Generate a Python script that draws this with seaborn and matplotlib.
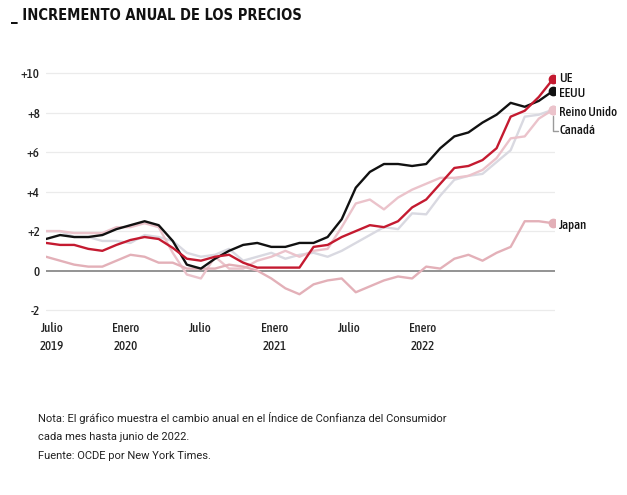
import matplotlib
matplotlib.use("Agg")
import matplotlib.pyplot as plt
from matplotlib import font_manager
from matplotlib.font_manager import FontProperties
import seaborn as sns
import pandas as pd

# Datos: variación anual del IPC, junio 2019 - junio 2022 (mensual)
meses = list(range(37))
ue = [1.4, 1.3, 1.3, 1.1, 1.0, 1.3, 1.55, 1.7, 1.6, 1.15, 0.6, 0.5, 0.7, 0.8, 0.4, 0.15, 0.15, 0.15, 0.15,
      1.2, 1.3, 1.7, 2.0, 2.3, 2.2, 2.5, 3.2, 3.6, 4.4, 5.2, 5.3, 5.6, 6.2, 7.8, 8.1, 8.8, 9.7]
eeuu = [1.6, 1.8, 1.7, 1.7, 1.8, 2.1, 2.3, 2.5, 2.3, 1.5, 0.3, 0.1, 0.6, 1.0, 1.3, 1.4, 1.2, 1.2, 1.4,
        1.4, 1.7, 2.6, 4.2, 5.0, 5.4, 5.4, 5.3, 5.4, 6.2, 6.8, 7.0, 7.5, 7.9, 8.5, 8.3, 8.6, 9.1]
reino_unido = [2.0, 2.0, 1.7, 1.7, 1.5, 1.5, 1.4, 1.8, 1.7, 1.5, 0.9, 0.7, 0.8, 1.1, 0.5, 0.7, 0.9, 0.6, 0.8,
               0.9, 0.7, 1.0, 1.4, 1.8, 2.2, 2.1, 2.9, 2.85, 3.8, 4.6, 4.8, 4.9, 5.5, 6.1, 7.8, 7.9, 8.15]
canada = [2.0, 2.0, 1.9, 1.9, 1.9, 2.2, 2.2, 2.4, 2.2, 0.9, -0.2, -0.4, 0.7, 0.1, 0.1, 0.5, 0.7, 1.0, 0.7,
          1.0, 1.1, 2.2, 3.4, 3.6, 3.1, 3.7, 4.1, 4.4, 4.7, 4.7, 4.8, 5.1, 5.7, 6.7, 6.8, 7.7, 8.15]
japon = [0.7, 0.5, 0.3, 0.2, 0.2, 0.5, 0.8, 0.7, 0.4, 0.4, 0.1, 0.1, 0.1, 0.3, 0.2, 0.0, -0.4, -0.9, -1.2,
         -0.7, -0.5, -0.4, -1.1, -0.8, -0.5, -0.3, -0.4, 0.2, 0.1, 0.6, 0.8, 0.5, 0.9, 1.2, 2.5, 2.5, 2.4]

ticks_labels = ["Julio\n2019", "Enero\n2020", "Julio", "Enero\n2021", "Julio", "Enero\n2022"]
ticks_pos = [0.43, 5.68, 10.94, 16.26, 21.52, 26.78]
y_ticks = [-2, 0, 2, 4, 6, 8, 10]
y_labels = ["-2", "0", "+2", "+4", "+6", "+8", "+10"]

series = {"Reino Unido": reino_unido, "Canadá": canada, "Japan": japon, "EEUU": eeuu, "UE": ue}
colores = {"Reino Unido": "#d9d9e1", "Canadá": "#ebc3cb", "Japan": "#e3b0b8",
           "EEUU": "#111111", "UE": "#c41a30"}

df = pd.concat([pd.DataFrame({"mes": meses, "valor": v, "pais": k}) for k, v in series.items()])

sns.set_theme(style="white")


def peso(f):
    w = f.weight
    if isinstance(w, str):
        w = {"normal": 400, "regular": 400, "book": 400, "medium": 500, "semibold": 600,
             "demibold": 600, "bold": 700, "heavy": 800, "black": 900}.get(w.lower(), 400)
    return int(w)


# buscar fuentes estrechas instaladas (normal / media / negrita)
estrechas = [f for f in font_manager.fontManager.ttflist
             if ("Condensed" in f.name or "Narrow" in f.name or f.stretch == "condensed")
             and f.style == "normal"]
def elegir(w):
    if not estrechas:
        return None
    f = min(estrechas, key=lambda f: abs(peso(f) - w))
    return FontProperties(fname=f.fname)

fp_medio = elegir(500)
fp_negrita = elegir(700)

fig = plt.figure(figsize=(6.27, 4.95), dpi=100)
ax = fig.add_axes([0.0734, 0.3697, 0.8118, 0.4863])

for y in y_ticks:
    if y != 0:
        ax.axhline(y, color="#ebebeb", linewidth=0.9, zorder=0)
ax.axhline(0, color="#8a8a8a", linewidth=1.3, zorder=1)

sns.lineplot(data=df, x="mes", y="valor", hue="pais", hue_order=list(series.keys()),
             palette=colores, linewidth=1.7, legend=False, ax=ax, zorder=3)

# puntos finales
for k, v in series.items():
    ax.plot(meses[-1], v[-1], "o", color=colores[k] if k != "Reino Unido" else colores["Canadá"],
            markersize=6, zorder=4)


def fp(base, size):
    if base is None:
        return FontProperties(family="DejaVu Sans", stretch="condensed", size=size)
    p = base.copy()
    p.set_size(size)
    return p


ax.set_xlim(0, 36.15)
ax.set_ylim(-2.1, 10.1)
ax.set_xticks(ticks_pos)
ax.set_xticklabels(ticks_labels, fontproperties=fp(fp_medio, 9.3), color="#222222", linespacing=1.45)
ax.set_yticks(y_ticks)
ax.set_yticklabels(y_labels, fontproperties=fp(fp_medio, 9.3), color="#222222")
ax.tick_params(axis="x", length=3.5, color="#dddddd", pad=4)
ax.tick_params(axis="y", length=0, pad=4.5)
ax.set_xlabel("")
ax.set_ylabel("")
for s in ax.spines.values():
    s.set_visible(False)

# etiquetas finales
etiquetas = [("UE", ue[-1] + 0.05), ("EEUU", eeuu[-1] - 0.15),
             ("Reino Unido", reino_unido[-1] - 0.15), ("Japan", japon[-1] - 0.13)]
for txt, yv in etiquetas:
    ax.text(36.45, yv, txt, fontproperties=fp(fp_medio, 9.3), va="center", ha="left", color="#111111")
ax.text(36.45, 7.1, "Canadá", fontproperties=fp(fp_medio, 9.3), va="center", ha="left", color="#111111")
ax.plot([36.0, 36.0, 36.35], [7.85, 7.05, 7.05], color="#9a9a9a", linewidth=1.0,
        clip_on=False, zorder=4)

fig.text(0.018, 0.968, "_ INCREMENTO ANUAL DE LOS PRECIOS", fontproperties=fp(fp_negrita, 10.5),
         fontweight="bold", va="center", ha="left", color="#111111")

notas = ["Nota: El gráfico muestra el cambio anual en el Índice de Confianza del Consumidor",
         "cada mes hasta junio de 2022.",
         "Fuente: OCDE por New York Times."]
for i, n in enumerate(notas):
    fig.text(0.061, 1 - (418 + 19 * i) / 495, n, fontsize=8, va="center", ha="left",
             color="#222222", family=["Roboto", "DejaVu Sans"])

fig.savefig("out.png", dpi=100)
